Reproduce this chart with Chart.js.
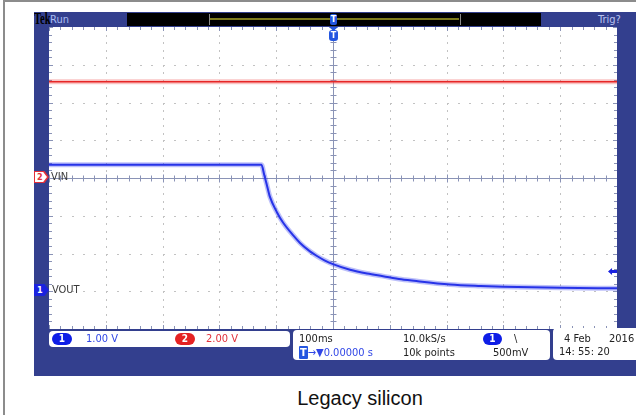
<!DOCTYPE html>
<html lang="en">
<head>
<meta charset="utf-8" />
<title>Legacy silicon</title>
<script src="https://cdn.jsdelivr.net/npm/chart.js"></script>
<style>
  body { margin: 0; width: 636px; height: 415px; background: #fff; position: relative; overflow: hidden;
         font-family: "DejaVu Sans Condensed", "DejaVu Sans", sans-serif; font-size: 11px; }
  .abs { position: absolute; }
  #frame { left: 3px; top: 0; width: 660px; height: 440px; border-left: 2px solid #8c8c8c; border-top: 2px solid #8c8c8c; }
  #panel { left: 34px; top: 12px; width: 602px; height: 364px; background: #333f8e; }
  #scope { left: 49px; top: 27px; }
  .box { background: #fff; border-radius: 4px; }
  .pill { border-radius: 7px; color: #fff; font-weight: bold; text-align: center; height: 12px; line-height: 12px; font-size: 10px; }
  .txt { white-space: nowrap; line-height: 13px; }
  .blue { color: #3046e6; }
  .red { color: #e2303a; }
  .dark { color: #222; }
</style>
</head>
<body>

<div id="frame" class="abs"></div>
<div id="panel" class="abs"></div>

<!-- header bar -->
<div class="abs txt" style="left:34px; top:11px; font-family:'Liberation Serif',serif; font-weight:bold; font-size:16px; line-height:16px; color:#000; transform:scaleX(0.66); transform-origin:left;">Tek</div>
<div class="abs txt" style="left:50px; top:13px; color:#a9bdf3;">Run</div>
<div class="abs" style="left:127px; top:13px; width:414px; height:13px; background:#000;"></div>
<div class="abs" style="left:209px; top:14px; width:250px; height:11px; border-left:1px solid #8a8a8a; border-right:1px solid #8a8a8a;"></div>
<div class="abs" style="left:210px; top:18px; width:249px; height:2px; background:#7d7a1c;"></div>
<div class="abs" style="left:330px; top:14px; width:7px; height:11px; background:#2456e0; border-radius:2px; color:#fff; font-size:9px; line-height:11px; text-align:center; font-weight:bold;">T</div>
<div class="abs txt" style="left:598px; top:13px; color:#b9c3ef;">Trig?</div>

<canvas id="scope" class="abs" width="568" height="302"></canvas>

<!-- plot overlays -->
<div class="abs" style="left:329px; top:27px; width:9px; height:4px; background:#2456e0; clip-path:polygon(0 0,100% 0,50% 100%);"></div>
<div class="abs" style="left:329px; top:30px; width:9px; height:11px; background:#2456e0; border-radius:3px; color:#fff; font-size:9px; line-height:11px; text-align:center; font-weight:bold;">T</div>

<div class="abs" style="left:34px; top:171px; width:15px; height:12px; background:#e2303a; clip-path:polygon(0 0,70% 0,100% 50%,70% 100%,0 100%);"></div>
<div class="abs" style="left:35px; top:172px; width:12px; height:10px; background:#fff; clip-path:polygon(0 0,68% 0,100% 50%,68% 100%,0 100%); color:#e2303a; font-size:9px; line-height:10px; font-weight:bold; text-indent:2px;">2</div>
<div class="abs txt dark" style="left:51px; top:170px; color:#3a3a3a;">VIN</div>

<div class="abs" style="left:34px; top:284px; width:15px; height:12px; background:#1a22e0; clip-path:polygon(0 0,70% 0,100% 50%,70% 100%,0 100%); color:#fff; font-size:9px; line-height:12px; font-weight:bold; text-indent:3px;">1</div>
<div class="abs txt dark" style="left:52px; top:283px; color:#3a3a3a;">VOUT</div>

<div class="abs" style="left:608px; top:268px; width:9px; height:7px; background:#1a22e0; clip-path:polygon(0 50%,45% 0,45% 30%,100% 30%,100% 70%,45% 70%,45% 100%);"></div>

<!-- readout boxes -->
<div class="abs box" style="left:49px; top:331px; width:241px; height:16px;"></div>
<div class="abs pill" style="left:52px; top:333px; width:20px; background:#0e1de6;">1</div>
<div class="abs txt blue" style="left:86px; top:332px;">1.00 V</div>
<div class="abs pill" style="left:175px; top:333px; width:20px; background:#e52222;">2</div>
<div class="abs txt red" style="left:206px; top:332px;">2.00 V</div>

<div class="abs box" style="left:293px; top:330px; width:257px; height:30px;"></div>
<div class="abs txt dark" style="left:299px; top:332px;">100ms</div>
<div class="abs txt dark" style="left:403px; top:332px;">10.0kS/s</div>
<div class="abs pill" style="left:483px; top:333px; width:19px; background:#0e1de6;">1</div>
<div class="abs txt dark" style="left:514px; top:332px;">\</div>
<div class="abs txt blue" style="left:299px; top:346px;"><span style="background:#2456e0; color:#fff; font-weight:bold; padding:0 1px; border-radius:1px;">T</span>→▼0.00000 s</div>
<div class="abs txt dark" style="left:403px; top:346px;">10k points</div>
<div class="abs txt dark" style="left:493px; top:346px;">500mV</div>

<div class="abs box" style="left:553px; top:328px; width:90px; height:32px;"></div>
<div class="abs txt dark" style="left:564px; top:332px;">4 Feb</div>
<div class="abs txt dark" style="left:609px; top:332px;">2016</div>
<div class="abs txt dark" style="left:559px; top:345px;">14: 55: 20</div>

<div class="abs" style="left:240px; top:386px; width:240px; text-align:center; font-family:'Liberation Sans',Arial,sans-serif; font-size:20px; line-height:24px; color:#111;">Legacy silicon</div>

<script>
// channel 1 (VOUT, 1 V/div), time in ms from trigger
const voutTimeMs = [-500, -400, -300, -200, -140, -126, -121, -117, -111, -99, -88, -70, -58, -40, -29, -15, 0, 30, 60, 88, 120, 147, 206, 260, 300, 400, 500];
const voutVolts  = [3.35, 3.35, 3.35, 3.35, 3.35, 3.35, 3.08, 2.85, 2.5, 2.1, 1.82, 1.48, 1.28, 1.05, 0.94, 0.82, 0.72, 0.57, 0.47, 0.40, 0.32, 0.27, 0.18, 0.14, 0.12, 0.09, 0.08];

// channel 2 (VIN, 2 V/div)
const vinTimeMs = [-500, 500];
const vinVolts  = [5.1, 5.1];

// 10 horizontal divisions of 100 ms, 8 vertical divisions
const timeDivMs = 100;
const ch1Range = [-1, 7];   // 1 V/div, ground 3 div below centre
const ch2Range = [-8, 8];   // 2 V/div, ground at centre

function pts(xs, ys) {
    return xs.map(function (x, i) { return { x: x, y: ys[i] }; });
}

const graticule = {
    id: 'graticule',
    beforeDraw(chart) {
        const c = chart.ctx;
        c.save();
        c.fillStyle = '#fff';
        c.fillRect(0, 0, chart.width, chart.height);
        c.restore();
    },
    beforeDatasetsDraw(chart) {
        const c = chart.ctx, a = chart.chartArea;
        const x = chart.scales.x, y = chart.scales.y1;
        c.save();
        // dotted division lines
        c.fillStyle = '#c2c2c2';
        for (let t = -400; t <= 400; t += timeDivMs) {
            if (t === 0) continue;
            const px = Math.round(x.getPixelForValue(t));
            for (let k = 0; k <= 40; k++) {
                const py = Math.round(y.getPixelForValue(ch1Range[0] + k * 0.2));
                c.fillRect(px, py, 1, 2);
            }
        }
        for (let v = ch1Range[0] + 1; v < ch1Range[1]; v++) {
            if (v === 3) continue;
            const py = Math.round(y.getPixelForValue(v));
            for (let k = 0; k <= 50; k++) {
                const px = Math.round(x.getPixelForValue(-500 + k * 20));
                c.fillRect(px, py, 2, 1);
            }
        }
        // centre cross
        c.strokeStyle = '#8a93b6';
        c.lineWidth = 1;
        const cx = Math.round(x.getPixelForValue(0)) + 0.5;
        const cy = Math.round(y.getPixelForValue(3)) + 0.5;
        c.beginPath();
        c.moveTo(cx, a.top); c.lineTo(cx, a.bottom);
        c.moveTo(a.left, cy); c.lineTo(a.right, cy);
        // minor ticks on the cross and the edges
        for (let k = 0; k <= 50; k++) {
            const px = Math.round(x.getPixelForValue(-500 + k * 20)) + 0.5;
            const len = (k % 5 === 0) ? 4 : 3;
            c.moveTo(px, cy - len); c.lineTo(px, cy + len);
            c.moveTo(px, a.top); c.lineTo(px, a.top + len);
            c.moveTo(px, a.bottom); c.lineTo(px, a.bottom - len);
        }
        for (let k = 0; k <= 40; k++) {
            const py = Math.round(y.getPixelForValue(ch1Range[0] + k * 0.2)) + 0.5;
            const len = (k % 5 === 0) ? 4 : 3;
            c.moveTo(cx - len, py); c.lineTo(cx + len, py);
            c.moveTo(a.left, py); c.lineTo(a.left + len, py);
            c.moveTo(a.right, py); c.lineTo(a.right - len, py);
        }
        c.stroke();
        c.restore();
    }
};

new Chart(document.getElementById('scope'), {
    type: 'line',
    data: {
        datasets: [
            { data: pts(vinTimeMs, vinVolts), yAxisID: 'y2', borderColor: 'rgba(236,60,60,0.3)', borderWidth: 5, pointRadius: 0 },
            { data: pts(vinTimeMs, vinVolts), yAxisID: 'y2', borderColor: '#e51e1e', borderWidth: 1.6, pointRadius: 0 },
            { data: pts(voutTimeMs, voutVolts), yAxisID: 'y1', borderColor: 'rgba(50,60,235,0.32)', borderWidth: 5, pointRadius: 0, cubicInterpolationMode: 'monotone' },
            { data: pts(voutTimeMs, voutVolts), yAxisID: 'y1', borderColor: '#2230e6', borderWidth: 2, pointRadius: 0, cubicInterpolationMode: 'monotone' }
        ]
    },
    options: {
        responsive: false,
        devicePixelRatio: 1,
        animation: false,
        layout: { padding: 0 },
        plugins: { legend: { display: false }, tooltip: { enabled: false } },
        scales: {
            x: { type: 'linear', min: -500, max: 500, display: false },
            y1: { type: 'linear', min: ch1Range[0], max: ch1Range[1], display: false },
            y2: { type: 'linear', min: ch2Range[0], max: ch2Range[1], display: false }
        }
    },
    plugins: [graticule]
});
</script>
</body>
</html>
